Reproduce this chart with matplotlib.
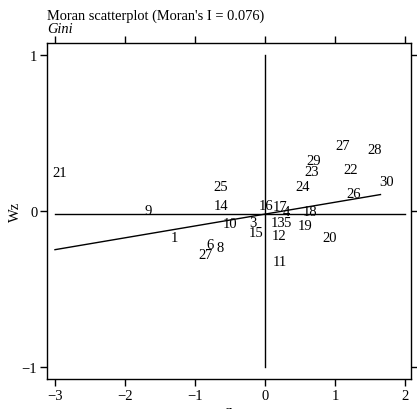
import numpy as np
import matplotlib
matplotlib.use("Agg")
import matplotlib.pyplot as plt

plt.rcParams['font.family'] = ['Liberation Serif', 'DejaVu Serif']

# --- data (standardised Gini, z, and its spatial lag, Wz) ---
ids = list(range(1, 31))
z = [-1.29, -0.90, -0.17, 0.31, 0.31, -0.79, -0.80, -0.64, -1.67, -0.50,
     0.21, 0.20, 0.19, -0.63, -0.13, 0.01, 0.21, 0.64, 0.57, 0.93,
     -2.93, 1.23, 0.67, 0.54, -0.63, 1.27, 1.11, 1.57, 0.70, 1.73]
wz = [-0.167, -0.282, -0.071, -0.006, -0.071, -0.212, -0.276, -0.237, 0.006, -0.083,
      -0.327, -0.154, -0.071, 0.038, -0.141, 0.032, 0.026, -0.006, -0.090, -0.173,
      0.244, 0.263, 0.256, 0.160, 0.160, 0.115, 0.417, 0.391, 0.321, 0.186]

moran_i = 0.076
wz_mean = -0.02
fit_x = [-3.0, 1.65]
xticks = [-3, -2, -1, 0, 1, 2]
yticks = [-1, 0, 1]

fig = plt.figure(figsize=(4.17, 4.10), dpi=100)
ax = fig.add_axes([0.1127, 0.0732, 0.8729, 0.8195])

# quadrant lines
ax.plot([xticks[0], xticks[-1]], [wz_mean, wz_mean], color='black', lw=1)
ax.plot([0, 0], [yticks[0], yticks[-1]], color='black', lw=1)

# regression line, slope = Moran's I
fx = np.array(fit_x)
ax.plot(fx, wz_mean + moran_i * fx, color='black', lw=1)

for i, x, y in zip(ids, z, wz):
    ax.text(x, y, str(i), ha='center', va='center', fontsize=10.5)

ax.set_xlim(-3.114, 2.086)
ax.set_ylim(-1.077, 1.077)
ax.set_xticks(xticks)
ax.set_yticks(yticks)
ax.set_xticklabels(['\u22123', '\u22122', '\u22121', '0', '1', '2'])
ax.set_yticklabels(['\u22121', '0', '1'])
ax.tick_params(axis='both', direction='out', length=5, width=1, labelsize=10.5,
               top=True, right=True, pad=2)
for s in ax.spines.values():
    s.set_linewidth(1)

ax.set_ylabel('Wz', fontsize=10.5)
ax.yaxis.set_label_coords(-0.068, 0.5)
ax.set_xlabel('z', fontsize=10.5)
ax.xaxis.set_label_coords(0.5, -0.075)

fig.text(0.1127, 0.944, "Moran scatterplot (Moran's I = %.3f)" % moran_i,
         fontsize=10.4, ha='left', va='bottom')
fig.text(0.1127, 0.912, "Gini", fontsize=10.4, style='italic', ha='left', va='bottom')

fig.savefig('out.png', dpi=100)
